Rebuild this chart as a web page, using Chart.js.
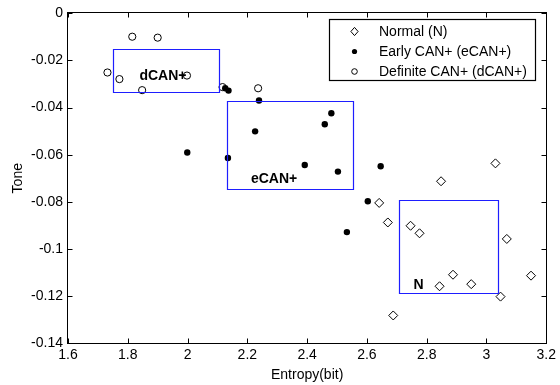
<!DOCTYPE html>
<html>
<head>
<meta charset="utf-8">
<script src="https://cdn.jsdelivr.net/npm/chart.js@4/dist/chart.umd.min.js"></script>
<style>
html, body { margin: 0; padding: 0; background: #fff; }
canvas { display: block; }
</style>
</head>
<body>
<canvas id="c" width="560" height="385"></canvas>
<script>
// data
const seriesNames = ["Normal (N)", "Early CAN+ (eCAN+)", "Definite CAN+ (dCAN+)"];

const normalX = [2.641, 2.670, 2.746, 2.776, 2.848, 3.030, 3.068, 2.888, 2.949, 2.843, 3.149, 3.047, 2.688];
const normalY = [-0.0805, -0.0888, -0.0902, -0.0934, -0.0713, -0.0637, -0.0958, -0.1110, -0.1150, -0.1159, -0.1114, -0.1203, -0.1283];

const earlyX = [2.126, 2.137, 2.239, 2.226, 1.999, 2.135, 2.392, 2.481, 2.459, 2.503, 2.646, 2.603, 2.533];
const earlyY = [-0.0318, -0.0328, -0.0370, -0.0501, -0.0591, -0.0614, -0.0644, -0.0424, -0.0471, -0.0672, -0.0649, -0.0798, -0.0929];

const definiteX = [1.815, 1.900, 1.732, 1.772, 1.848, 1.998, 2.117, 2.236];
const definiteY = [-0.0099, -0.0103, -0.0251, -0.0279, -0.0326, -0.0264, -0.0313, -0.0318];

// cluster boxes + their labels
const boxLabels = ["dCAN+", "eCAN+", "N"];
const boxXMin = [1.750, 2.132, 2.707];
const boxXMax = [2.106, 2.553, 3.039];
const boxYMax = [-0.0151, -0.0372, -0.0792];
const boxYMin = [-0.0332, -0.0744, -0.1187];
const labelX = [1.839, 2.212, 2.756];
const labelY = [-0.0268, -0.0704, -0.1155];

// axes
const xTicks = [1.6, 1.8, 2.0, 2.2, 2.4, 2.6, 2.8, 3.0, 3.2];
const xTickLabels = ["1.6", "1.8", "2", "2.2", "2.4", "2.6", "2.8", "3", "3.2"];
const yTicks = [0, -0.02, -0.04, -0.06, -0.08, -0.1, -0.12, -0.14];
const yTickLabels = ["0", "-0.02", "-0.04", "-0.06", "-0.08", "-0.1", "-0.12", "-0.14"];

const FONT = "'Liberation Sans', Arial, sans-serif";

const toPoints = (xs, ys) => xs.map((v, i) => ({ x: v, y: ys[i] }));

// marker drawing for the legend
function drawMarker(ctx, kind, cx, cy) {
  ctx.beginPath();
  if (kind === 0) {
    const r = 3.6;
    ctx.moveTo(cx - r, cy);
    ctx.lineTo(cx, cy - r - 0.5);
    ctx.lineTo(cx + r, cy);
    ctx.lineTo(cx, cy + r + 0.5);
    ctx.closePath();
    ctx.stroke();
  } else if (kind === 1) {
    ctx.arc(cx, cy, 2.6, 0, Math.PI * 2);
    ctx.fill();
  } else {
    ctx.arc(cx, cy, 2.8, 0, Math.PI * 2);
    ctx.stroke();
  }
}

// frame, inward ticks, boxes, labels, legend
const decorPlugin = {
  id: "decor",
  afterDatasetsDraw(chart) {
    const { ctx, chartArea: a, scales: { x, y } } = chart;
    ctx.save();
    ctx.strokeStyle = "#000";
    ctx.lineWidth = 1;
    const L = Math.round(a.left) - 0.5, R = Math.round(a.right) + 0.5;
    const T = Math.round(a.top) - 0.5, B = Math.round(a.bottom) + 0.5;
    ctx.strokeRect(L, T, R - L, B - T);

    ctx.beginPath();
    xTicks.forEach(v => {
      const px = Math.round(x.getPixelForValue(v)) + 0.5;
      ctx.moveTo(px, B); ctx.lineTo(px, B - 5);
      ctx.moveTo(px, T); ctx.lineTo(px, T + 5);
    });
    yTicks.forEach(v => {
      const py = Math.round(y.getPixelForValue(v)) + 0.5;
      ctx.moveTo(L, py); ctx.lineTo(L + 5, py);
      ctx.moveTo(R, py); ctx.lineTo(R - 5, py);
    });
    ctx.stroke();

    // blue cluster boxes
    ctx.strokeStyle = "rgb(30,30,255)";
    ctx.lineWidth = 1.2;
    boxLabels.forEach((lab, i) => {
      const x0 = Math.round(x.getPixelForValue(boxXMin[i])) + 0.5;
      const x1 = Math.round(x.getPixelForValue(boxXMax[i])) + 0.5;
      const y0 = Math.round(y.getPixelForValue(boxYMax[i])) + 0.5;
      const y1 = Math.round(y.getPixelForValue(boxYMin[i])) + 0.5;
      ctx.beginPath();
      ctx.rect(x0, y0, x1 - x0, y1 - y0);
      ctx.stroke();
    });

    ctx.fillStyle = "#000";
    ctx.font = "bold 14px " + FONT;
    ctx.textAlign = "left";
    ctx.textBaseline = "middle";
    boxLabels.forEach((lab, i) => {
      ctx.fillText(lab, x.getPixelForValue(labelX[i]), y.getPixelForValue(labelY[i]));
    });

    // legend box
    ctx.strokeStyle = "#000";
    ctx.lineWidth = 1.2;
    ctx.fillStyle = "#fff";
    ctx.fillRect(329, 19, 206, 61);
    ctx.strokeRect(329.5, 19.5, 206, 61);
    ctx.lineWidth = 1;
    ctx.font = "14px " + FONT;
    seriesNames.forEach((name, i) => {
      const cy = 31.5 + i * 20;
      ctx.fillStyle = "#000";
      drawMarker(ctx, i, 354.5, cy);
      ctx.fillText(name, 379, cy + 0.5);
    });
    ctx.restore();
  }
};

const axisFont = { family: FONT, size: 14 };

new Chart(document.getElementById("c"), {
  type: "scatter",
  data: {
    datasets: [
      {
        label: seriesNames[0],
        data: toPoints(normalX, normalY),
        pointStyle: "rectRot",
        pointRadius: 4.5,
        backgroundColor: "rgba(0,0,0,0)",
        borderColor: "#000",
        borderWidth: 1
      },
      {
        label: seriesNames[1],
        data: toPoints(earlyX, earlyY),
        pointStyle: "circle",
        pointRadius: 3.2,
        backgroundColor: "#000",
        borderColor: "#000",
        borderWidth: 0
      },
      {
        label: seriesNames[2],
        data: toPoints(definiteX, definiteY),
        pointStyle: "circle",
        pointRadius: 3.6,
        backgroundColor: "rgba(0,0,0,0)",
        borderColor: "#000",
        borderWidth: 1
      }
    ]
  },
  options: {
    responsive: false,
    animation: false,
    layout: { padding: { top: 13, right: 12, left: 0, bottom: 0 } },
    plugins: {
      legend: { display: false },
      tooltip: { enabled: false }
    },
    scales: {
      x: {
        type: "linear",
        min: 1.6,
        max: 3.2,
        afterBuildTicks: s => { s.ticks = xTicks.map(v => ({ value: v })); },
        afterFit: s => { s.height = 42; },
        ticks: {
          color: "#000",
          font: axisFont,
          padding: 4,
          autoSkip: false,
          maxRotation: 0,
          callback: (v, i) => xTickLabels[i]
        },
        grid: { display: false, drawTicks: false },
        border: { display: false },
        title: {
          display: true,
          text: "Entropy(bit)",
          color: "#000",
          font: axisFont,
          padding: { top: 0, bottom: 1 }
        }
      },
      y: {
        type: "linear",
        min: -0.14,
        max: 0,
        afterBuildTicks: s => { s.ticks = yTicks.map(v => ({ value: v })); },
        afterFit: s => { s.width = 68; },
        ticks: {
          color: "#000",
          font: axisFont,
          padding: 5,
          autoSkip: false,
          callback: (v, i) => yTickLabels[i]
        },
        grid: { display: false, drawTicks: false },
        border: { display: false },
        title: {
          display: true,
          text: "Tone",
          color: "#000",
          font: axisFont,
          padding: { top: 10, bottom: 0 }
        }
      }
    }
  },
  plugins: [decorPlugin]
});
</script>
</body>
</html>
